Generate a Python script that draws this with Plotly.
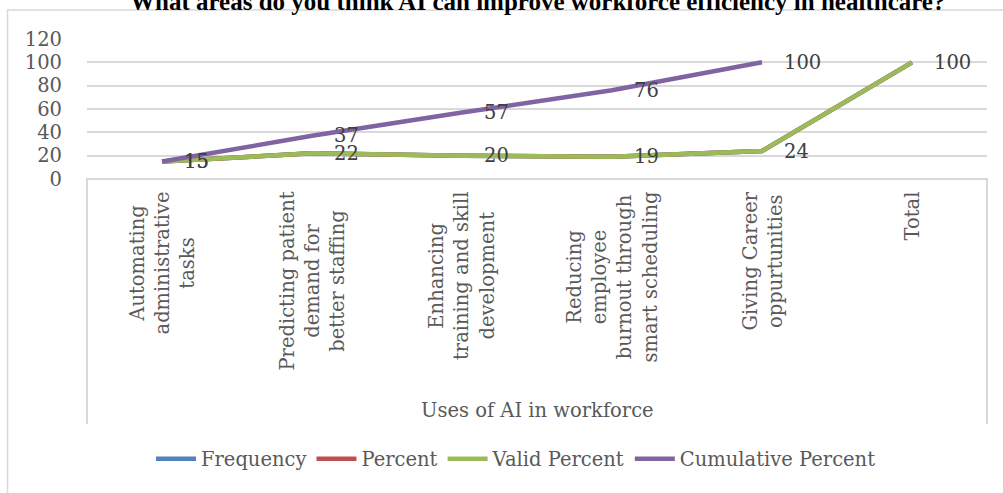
import plotly.graph_objects as go

categories = [
    "Automating<br>administrative<br>tasks",
    "Predicting patient<br>demand for<br>better staffing",
    "Enhancing<br>training and skill<br>development",
    "Reducing<br>employee<br>burnout through<br>smart scheduling",
    "Giving Career<br>oppurtunities",
    "Total",
]
frequency = [15, 22, 20, 19, 24, 100]
percent = [15, 22, 20, 19, 24, 100]
valid_percent = [15, 22, 20, 19, 24, 100]
cumulative_percent = [15, 37, 57, 76, 100, None]

series_names = ["Frequency", "Percent", "Valid Percent", "Cumulative Percent"]
series_values = [frequency, percent, valid_percent, cumulative_percent]
series_colors = ["#4F81BD", "#C0504D", "#9BBB59", "#8064A2"]

title_text = "What areas do you think AI can improve workforce efficiency in healthcare?"
x_title = "Uses of AI in workforce"
y_ticks = [0, 20, 40, 60, 80, 100, 120]

FONT = "DejaVu Serif"
FS = 19.5
GRAY = "#595959"

# layout pixel geometry
W, H = 1003, 493
PL, PR = 87, 987      # plot left/right px
PT, PB = 39, 179      # plot top/bottom px
ph = PB - PT
pw = PR - PL

def py(yp):
    return (PB - yp) / ph

def px(xp):
    return (xp - PL) / pw

idx = list(range(len(categories)))

fig = go.Figure()
for name, vals, col in zip(series_names, series_values, series_colors):
    fig.add_trace(go.Scatter(
        x=idx, y=vals, name=name, mode="lines",
        line=dict(color=col, width=4.5),
        connectgaps=False,
    ))

annotations = []
# data labels
for vals in (valid_percent, cumulative_percent):
    for i, v in zip(idx, vals):
        if v is None:
            continue
        annotations.append(dict(
            x=i, y=v, xref="x", yref="y", text=str(v), showarrow=False,
            xanchor="left", yanchor="middle", xshift=20,
            font=dict(family=FONT, size=FS, color="#404040"),
        ))

# category labels (rotated, centered lines)
for i, c in zip(idx, categories):
    annotations.append(dict(
        x=i, y=py(190), xref="x", yref="paper", text=c, showarrow=False,
        textangle=-90, xanchor="center", yanchor="top", align="center",
        font=dict(family=FONT, size=FS, color=GRAY),
    ))

# x axis title
annotations.append(dict(
    x=0.5, y=py(410), xref="paper", yref="paper", text=x_title, showarrow=False,
    xanchor="center", yanchor="middle",
    font=dict(family=FONT, size=FS, color=GRAY),
))

# chart title (cut off at top)
annotations.append(dict(
    x=0.5, y=py(1), xref="paper", yref="paper", text="<b>" + title_text + "</b>",
    showarrow=False, xanchor="center", yanchor="middle",
    font=dict(family="Liberation Serif", size=25, color="#000000"),
))

shapes = [
    # outer chart border
    dict(type="rect", xref="paper", yref="paper",
         x0=px(7.5), x1=px(1040), y0=py(520), y1=py(10),
         line=dict(color="#D9D9D9", width=1.5), layer="below"),
    # category axis box
    dict(type="path", xref="paper", yref="paper",
         path=f"M {px(PL)} {py(424)} L {px(PL)} {py(PB)} L {px(PR)} {py(PB)} L {px(PR)} {py(424)}",
         line=dict(color="#D9D9D9", width=2), layer="below"),
]

fig.update_layout(
    width=W, height=H,
    margin=dict(l=PL, r=W - PR, t=PT, b=H - PB),
    paper_bgcolor="white", plot_bgcolor="white",
    showlegend=True,
    legend=dict(orientation="h", x=px(516), xanchor="center", y=-2, yanchor="middle",
                font=dict(family=FONT, size=FS, color=GRAY), itemwidth=40,
                tracegroupgap=0),
    annotations=annotations,
    shapes=shapes,
    xaxis=dict(range=[-0.5, 5.5], showticklabels=False, showgrid=False,
               zeroline=False, showline=False, fixedrange=True),
    yaxis=dict(range=[0, 120], tickvals=y_ticks, showgrid=True, gridcolor="#D9D9D9",
               gridwidth=2, zeroline=False, showline=False, ticks="",
               ticklabelstandoff=24,
               tickfont=dict(family=FONT, size=FS, color=GRAY)),
)

fig.write_html("out.html")
